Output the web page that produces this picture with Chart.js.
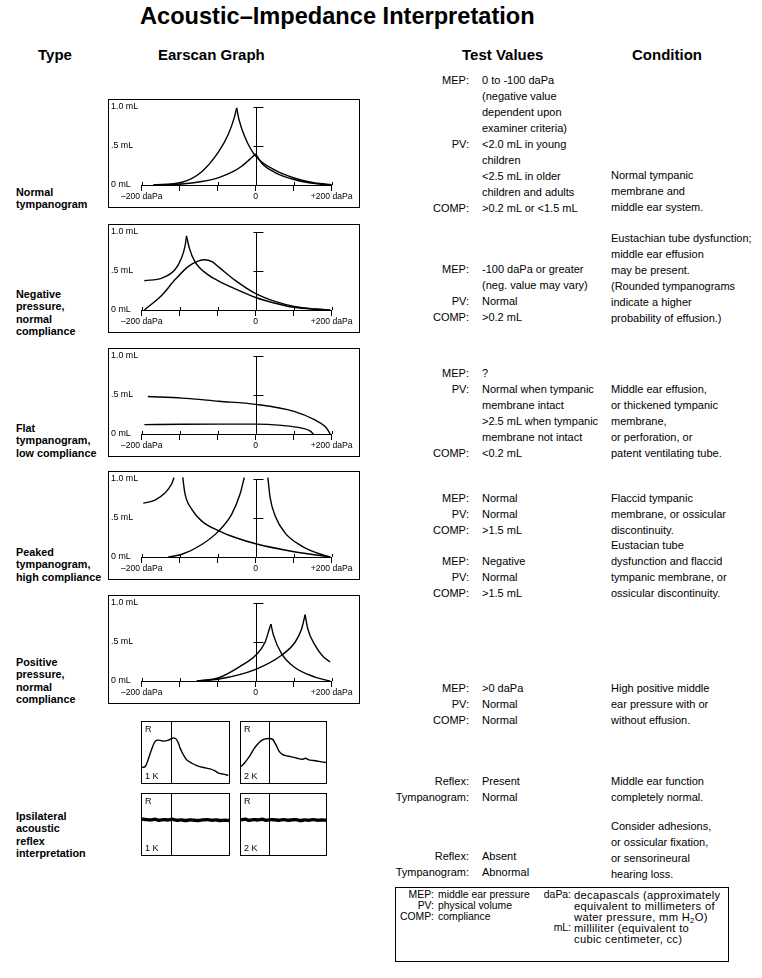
<!DOCTYPE html>
<html>
<head>
<meta charset="utf-8">
<script src="https://cdn.jsdelivr.net/npm/chart.js@4.4.1/dist/chart.umd.min.js"></script>
<style>
body { margin: 0; background: #fff; }
#page { position: relative; width: 762px; height: 978px; overflow: hidden; font-family: "Liberation Sans", Arial, sans-serif; color: #000; }
.t { position: absolute; white-space: nowrap; height: 14px; line-height: 14px; }
.box { position: absolute; border: 1px solid #000; box-sizing: border-box; }
.box canvas { position: absolute; left: 0; top: 0; }
sub { font-size: 70%; vertical-align: -2px; line-height: 0; }
</style>
</head>
<body>
<div id="page"></div>
<script>
const FONT = '"Liberation Sans", Arial, sans-serif';

// x axis of the earscan graphs: six evenly spaced ticks, 0 under the fourth one
const pressureTicks = [-300, -200, -100, 0, 100, 200];
const pressureLabels = ['–200 daPa', '', '', '0', '', '+200 daPa'];
const volumeTicks = [0, 0.5, 1.0];
const volumeLabels = ['0 mL', '.5 mL', '1.0 mL'];

// normal tympanogram
const normalPeakRise = [[-269, 0], [-194, 0.035], [-142, 0.17], [-97, 0.43], [-72, 0.65], [-56, 0.87], [-50, 0.99]];
const normalPeakFall = [[-50, 0.99], [-44, 0.84], [-28, 0.61], [0, 0.37], [51, 0.19], [101, 0.09], [156, 0.025], [200, 0.005]];
const normalLowRise = [[-269, 0], [-194, 0.012], [-142, 0.045], [-97, 0.095], [-60, 0.17], [-37, 0.24], [-11, 0.35], [0, 0.40]];
const normalLowFall = [[0, 0.40], [16, 0.28], [51, 0.16], [101, 0.07], [156, 0.018], [196, 0.003]];

// negative pressure, normal compliance
const negPeakRise = [[-293, 0.375], [-247, 0.41], [-212, 0.52], [-195, 0.67], [-186, 0.82], [-182, 0.95]];
const negPeakFall = [[-182, 0.95], [-175, 0.80], [-160, 0.62], [-125, 0.45], [-97, 0.37], [-54, 0.27], [0, 0.16], [51, 0.087], [101, 0.035], [156, 0.01], [196, 0]];
const negRounded = [[-293, 0], [-247, 0.19], [-212, 0.39], [-177, 0.56], [-150, 0.63], [-135, 0.645], [-115, 0.62], [-97, 0.55], [-54, 0.38], [0, 0.21], [51, 0.11], [101, 0.045], [156, 0.012], [196, 0]];

// flat tympanogram, low compliance
const flatHigh = [[-284, 0.48], [-194, 0.46], [-97, 0.42], [0, 0.38], [101, 0.29], [156, 0.18], [182, 0.10], [190, 0.05], [196, 0]];
const flatLow = [[-293, 0.12], [-194, 0.125], [-97, 0.127], [0, 0.127], [68, 0.11], [121, 0.076], [143, 0.04], [152, 0]];

// peaked tympanogram, high compliance
const peakedStub = [[-296, 0.69], [-265, 0.73], [-239, 0.82], [-221, 0.94], [-215, 1.02]];
const peakedFallLong = [[-192, 1.02], [-186, 0.81], [-168, 0.61], [-142, 0.46], [-97, 0.335], [-54, 0.25], [0, 0.17], [101, 0.068], [196, 0]];
const peakedRise = [[-230, 0], [-194, 0.035], [-142, 0.16], [-97, 0.335], [-63, 0.55], [-41, 0.81], [-30, 1.02]];
const peakedFallRight = [[32, 1.02], [38, 0.76], [51, 0.53], [77, 0.31], [121, 0.14], [165, 0.045], [196, 0]];

// positive pressure, normal compliance
const posLowRise = [[-155, 0], [-97, 0.042], [-37, 0.20], [0, 0.33], [25, 0.5], [36, 0.67], [40, 0.73]];
const posLowFall = [[40, 0.73], [47, 0.585], [68, 0.35], [101, 0.18], [156, 0.05], [196, 0]];
const posHighRise = [[-155, 0], [-97, 0.025], [0, 0.15], [68, 0.33], [104, 0.5], [121, 0.67], [130, 0.85]];
const posHighFall = [[130, 0.85], [137, 0.67], [156, 0.46], [178, 0.31], [196, 0.245]];

// acoustic reflex traces (time 0-100, response 0-100)
const reflexOnset = 33.5;
const reflexPresent1K = [[0, 25.4], [3.8, 27], [7.6, 40.5], [11.5, 56.8], [15.3, 68.6], [19.1, 70.3], [24.8, 68.6], [30.5, 70.3], [34.4, 73], [36.3, 74], [39.3, 71.9], [42, 64.9], [43.9, 56.8], [47.7, 45.9], [51.5, 37.8], [57.3, 32.4], [63, 28.6], [70.6, 25.4], [78.2, 23.2], [84, 20], [87.8, 16.2], [93.5, 14.6], [99.2, 12.4]];
const reflexPresent2K = [[0, 27], [3.9, 32.4], [9.7, 43.2], [15.6, 56.8], [21.4, 66.5], [27.2, 71.9], [33.1, 73], [37, 71.9], [40.9, 63.2], [44.7, 52.4], [48.6, 47], [52.5, 44.9], [58.4, 43.2], [66.1, 40.5], [72, 38.9], [75.9, 40.5], [79.8, 37.8], [85.6, 36.8], [93.4, 35.1], [100, 33.5]];
const reflexAbsent1K = [[0, 59], [5, 58], [10, 57.5], [15, 58.5], [20, 57], [25, 58], [30, 57.5], [35, 58.5], [40, 57], [45, 57.5], [50, 56.5], [55, 57.5], [60, 57], [65, 56.5], [70, 57.5], [75, 58], [80, 57], [85, 57.5], [90, 56.5], [95, 57], [100, 56.5]];
const reflexAbsent2K = [[0, 57.5], [5, 58.5], [10, 57], [15, 58], [20, 57.5], [25, 58.5], [30, 57], [35, 58], [40, 57.5], [45, 57], [50, 58], [55, 57], [60, 57.5], [65, 58], [70, 56.5], [75, 57.5], [80, 57], [85, 58], [90, 57], [95, 57.5], [100, 57]];

const page = document.getElementById('page');

function put(x, cy, text, style, alignRight) {
    let d = document.createElement('div');
    d.className = 't';
    d.style.top = (cy - 7) + 'px';
    if (alignRight) {
        d.style.right = (762 - x) + 'px';
        d.style.textAlign = 'right';
    } else {
        d.style.left = x + 'px';
    }
    if (style) Object.assign(d.style, style);
    if (text.indexOf('H2O') >= 0) {
        d.innerHTML = text.replace('H2O', 'H<sub>2</sub>O');
    } else {
        d.textContent = text;
    }
    page.appendChild(d);
    return d;
}

function box(left, top, width, height) {
    let b = document.createElement('div');
    b.className = 'box';
    Object.assign(b.style, { left: left + 'px', top: top + 'px', width: width + 'px', height: height + 'px' });
    let c = document.createElement('canvas');
    c.width = width - 2;
    c.height = height - 2;
    b.appendChild(c);
    page.appendChild(b);
    return c;
}

function line(points, width) {
    return {
        data: points.map(p => ({ x: p[0], y: p[1] })),
        borderColor: '#000',
        borderWidth: width || 1.4,
        pointRadius: 0,
        fill: false,
        clip: 3,
        cubicInterpolationMode: 'monotone'
    };
}

// the vertical mL axis sitting on 0 daPa, and the small upward tick stubs
const earscanAxis = {
    id: 'earscanAxis',
    afterDraw(chart) {
        let { ctx, scales: { x, y } } = chart;
        let x0 = Math.round(x.getPixelForValue(0)) + 0.5;
        let yBase = y.getPixelForValue(0);
        ctx.save();
        ctx.strokeStyle = '#000';
        ctx.lineWidth = 1;
        ctx.beginPath();
        ctx.moveTo(x0, yBase);
        ctx.lineTo(x0, y.getPixelForValue(1));
        [0.5, 1].forEach(v => {
            let py = Math.round(y.getPixelForValue(v)) + 0.5;
            ctx.moveTo(x0 - 3, py);
            ctx.lineTo(x0 + 7, py);
        });
        x.ticks.forEach(t => {
            let px = Math.round(x.getPixelForValue(t.value)) + 0.5;
            ctx.moveTo(px, yBase);
            ctx.lineTo(px, yBase - 3);
        });
        ctx.stroke();
        ctx.restore();
    }
};

function earscan(top, curves) {
    let canvas = box(108, top, 252, 109);
    new Chart(canvas, {
        type: 'line',
        data: { datasets: curves.map(c => line(c)) },
        options: {
            responsive: false,
            animation: false,
            events: [],
            layout: { padding: { left: 2, right: 27.3, top: 0, bottom: 0 } },
            plugins: { legend: { display: false }, tooltip: { enabled: false } },
            scales: {
                x: {
                    type: 'linear', min: -300, max: 200,
                    afterBuildTicks: s => { s.ticks = pressureTicks.map(v => ({ value: v })); },
                    afterFit: s => { s.height = 22; s.paddingLeft = 0; s.paddingRight = 0; },
                    ticks: {
                        autoSkip: false, maxRotation: 0, padding: 0, color: '#000',
                        font: { size: 8.6, family: FONT },
                        callback: (v, i) => pressureLabels[i]
                    },
                    grid: { drawOnChartArea: false, drawTicks: true, tickLength: 6, color: '#000', lineWidth: 1 },
                    border: { display: true, color: '#000', width: 1 }
                },
                y: {
                    type: 'linear', min: 0, max: 1.09,
                    afterBuildTicks: s => { s.ticks = volumeTicks.map(v => ({ value: v })); },
                    afterFit: s => { s.width = 30.7; s.paddingTop = 0; s.paddingBottom = 0; },
                    ticks: {
                        crossAlign: 'far', padding: 0, color: '#000',
                        font: { size: 8.9, family: FONT },
                        callback: (v, i) => volumeLabels[i]
                    },
                    grid: { display: false },
                    border: { display: false }
                }
            }
        },
        plugins: [earscanAxis]
    });
}

const onsetLine = {
    id: 'onsetLine',
    afterDraw(chart) {
        let { ctx, chartArea, scales: { x } } = chart;
        let px = Math.round(x.getPixelForValue(reflexOnset)) + 0.5;
        ctx.save();
        ctx.strokeStyle = '#000';
        ctx.lineWidth = 1;
        ctx.beginPath();
        ctx.moveTo(px, chartArea.top - 2);
        ctx.lineTo(px, chartArea.bottom + 2);
        ctx.stroke();
        ctx.restore();
    }
};

function reflex(left, top, width, trace, thick, freq) {
    let canvas = box(left, top, width, 63);
    let ds = line(trace, thick);
    ds.cubicInterpolationMode = 'default';
    ds.tension = 0.3;
    new Chart(canvas, {
        type: 'line',
        data: { datasets: [ds] },
        options: {
            responsive: false,
            animation: false,
            events: [],
            layout: { padding: 0 },
            plugins: { legend: { display: false }, tooltip: { enabled: false } },
            scales: {
                x: { type: 'linear', min: 0, max: 100, display: false },
                y: { type: 'linear', min: 0, max: 100, display: false }
            }
        },
        plugins: [onsetLine]
    });
    put(left + 4, top + 8, 'R', { fontSize: '9px' });
    put(left + 4, top + 55, freq, { fontSize: '9px' });
}

// title and column heads
put(140, 16, 'Acoustic–Impedance Interpretation', { fontSize: '23.6px', fontWeight: 'bold', height: '28px', lineHeight: '28px', top: '2px' });
[[38, 'Type'], [158, 'Earscan Graph'], [462, 'Test Values'], [632, 'Condition']].forEach(h => {
    put(h[0], 55, h[1], { fontSize: '15px', fontWeight: 'bold', height: '18px', lineHeight: '18px', top: '46px' });
});

// graphs
earscan(99, [normalPeakRise, normalPeakFall, normalLowRise, normalLowFall]);
earscan(224, [negPeakRise, negPeakFall, negRounded]);
earscan(348, [flatHigh, flatLow]);
earscan(471, [peakedStub, peakedFallLong, peakedRise, peakedFallRight]);
earscan(595, [posLowRise, posLowFall, posHighRise, posHighFall]);

reflex(141, 721, 89, reflexPresent1K, 1.4, '1 K');
reflex(240, 721, 87, reflexPresent2K, 1.4, '2 K');
reflex(141, 793, 89, reflexAbsent1K, 3.4, '1 K');
reflex(240, 793, 87, reflexAbsent2K, 3.4, '2 K');

// type labels
const typeLabels = [
    [192, ['Normal', 'tympanogram']],
    [294, ['Negative', 'pressure,', 'normal', 'compliance']],
    [428, ['Flat', 'tympanogram,', 'low compliance']],
    [552, ['Peaked', 'tympanogram,', 'high compliance']],
    [662, ['Positive', 'pressure,', 'normal', 'compliance']],
    [816, ['Ipsilateral', 'acoustic', 'reflex', 'interpretation']]
];
typeLabels.forEach(t => {
    t[1].forEach((s, i) => put(16, t[0] + i * 12.3, s, { fontSize: '10.8px', fontWeight: 'bold' }));
});

// test values
const LH = 15.9;
const testValues = [
    [80.3, [['MEP:', '0 to -100 daPa'], ['', '(negative value'], ['', 'dependent upon'], ['', 'examiner criteria)'], ['PV:', '<2.0 mL in young'], ['', 'children'], ['', '<2.5 mL in older'], ['', 'children and adults'], ['COMP:', '>0.2 mL or <1.5 mL']]],
    [269.3, [['MEP:', '-100 daPa or greater'], ['', '(neg. value may vary)'], ['PV:', 'Normal'], ['COMP:', '>0.2 mL']]],
    [373.3, [['MEP:', '?'], ['PV:', 'Normal when tympanic'], ['', 'membrane intact'], ['', '>2.5 mL when tympanic'], ['', 'membrane not intact'], ['COMP:', '<0.2 mL']]],
    [498.3, [['MEP:', 'Normal'], ['PV:', 'Normal'], ['COMP:', '>1.5 mL']]],
    [560.7, [['MEP:', 'Negative'], ['PV:', 'Normal'], ['COMP:', '>1.5 mL']]],
    [688.3, [['MEP:', '>0 daPa'], ['PV:', 'Normal'], ['COMP:', 'Normal']]],
    [781, [['Reflex:', 'Present'], ['Tympanogram:', 'Normal']]],
    [856, [['Reflex:', 'Absent'], ['Tympanogram:', 'Abnormal']]]
];
testValues.forEach(b => {
    b[1].forEach((r, i) => {
        let cy = b[0] + i * LH;
        if (r[0]) put(469, cy, r[0], { fontSize: '11px' }, true);
        put(482, cy, r[1], { fontSize: '11px' });
    });
});

const conditions = [
    [175.3, ['Normal tympanic', 'membrane and', 'middle ear system.']],
    [238.3, ['Eustachian tube dysfunction;', 'middle ear effusion', 'may be present.', '(Rounded tympanograms', 'indicate a higher', 'probability of effusion.)']],
    [389.3, ['Middle ear effusion,', 'or thickened tympanic', 'membrane,', 'or perforation, or', 'patent ventilating tube.']],
    [498.3, ['Flaccid tympanic', 'membrane, or ossicular', 'discontinuity.']],
    [545, ['Eustacian tube', 'dysfunction and flaccid', 'tympanic membrane, or', 'ossicular discontinuity.']],
    [688.3, ['High positive middle', 'ear pressure with or', 'without effusion.']],
    [781, ['Middle ear function', 'completely normal.']],
    [826, ['Consider adhesions,', 'or ossicular fixation,', 'or sensorineural', 'hearing loss.']]
];
conditions.forEach(b => {
    b[1].forEach((s, i) => put(611, b[0] + i * LH, s, { fontSize: '11px' }));
});

// abbreviation key
let key = document.createElement('div');
key.className = 'box';
Object.assign(key.style, { left: '395px', top: '887px', width: '334px', height: '75px' });
page.appendChild(key);
const keyLeft = [['MEP:', 'middle ear pressure'], ['PV:', 'physical volume'], ['COMP:', 'compliance']];
const keyRight = [['daPa:', 'decapascals (approximately'], ['', 'equivalent to millimeters of'], ['', 'water pressure, mm H2O)'], ['mL:', 'milliliter (equivalent to'], ['', 'cubic centimeter, cc)']];
keyLeft.forEach((r, i) => {
    put(434, 895 + i * 11, r[0], { fontSize: '10.4px' }, true);
    put(438, 895 + i * 11, r[1], { fontSize: '10.4px' });
});
keyRight.forEach((r, i) => {
    if (r[0]) put(571, 895 + i * 11, r[0], { fontSize: '10.4px' }, true);
    put(574, 895 + i * 11, r[1], { fontSize: '11.2px', letterSpacing: '0.3px' });
});
</script>
</body>
</html>
